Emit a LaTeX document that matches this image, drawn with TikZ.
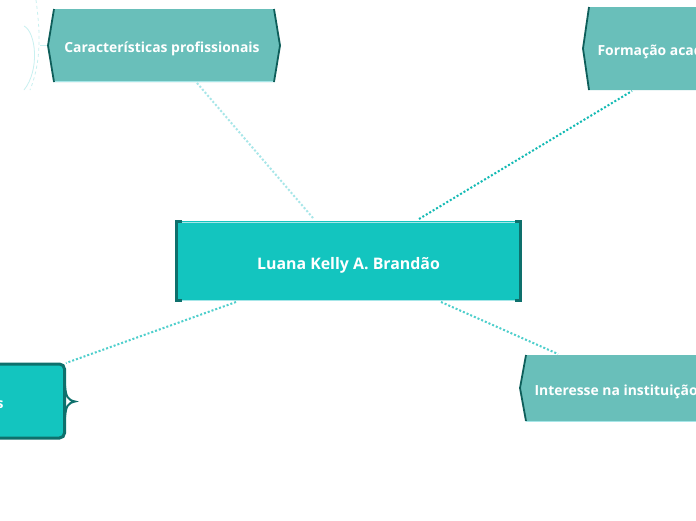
\documentclass[tikz,border=0pt]{standalone}
\usepackage{fontspec}
\setmainfont{Open Sans}
\definecolor{centerfill}{HTML}{13C5BF}
\definecolor{subfill}{HTML}{69BFBA}
\definecolor{darkedge}{HTML}{0E5E5A}
\definecolor{darkteal}{HTML}{0E706C}
\definecolor{lightcyan}{HTML}{A6E6E8}
\definecolor{midcyan}{HTML}{4ECFCC}
\definecolor{deepcyan}{HTML}{13BAB4}
\definecolor{paleline}{HTML}{C8F0F0}
\tikzset{
  lbl/.style={text=white},
  conn/.style={line width=2pt,dash pattern=on 2pt off 2pt},
  subshape/.style={fill=subfill},
  sideedge/.style={draw=darkedge,line width=1.8pt},
}
\newcommand{\subfont}{\bfseries\fontsize{13.9}{16}\selectfont}
\begin{document}
\begin{tikzpicture}[x=1pt,y=-1pt]
\useasboundingbox (0,0) rectangle (696,520);
\clip (0,0) rectangle (696,520);
\fill[white] (0,0) rectangle (696,520);

% faint decorations left of top-left node
\draw[paleline,line width=0.8pt,dashed] (36,0) .. controls (40,30) and (42,60) .. (30,90);
\draw[paleline,line width=0.8pt] (24,26) .. controls (36,32) and (40,70) .. (24,90);
\draw[paleline,line width=1pt] (40,45) -- (48,45);

% connector endpoints
\coordinate (c1) at (313,218);
\coordinate (c2) at (419,219);
\coordinate (c3) at (236,302);
\coordinate (c4) at (441,302);
\coordinate (t1) at (197,83);
\coordinate (t2) at (632,91);
\coordinate (t3) at (66,363);
\coordinate (t4) at (558,354);

\draw[conn,lightcyan] (c1) -- (t1);
\draw[conn,deepcyan] (c2) -- (t2);
\draw[conn,midcyan] (c3) -- (t3);
\draw[conn,midcyan] (c4) -- (t4);

% central node
\fill[centerfill] (175,221) rectangle (522,301);
\draw[lightcyan,line width=1pt] (178,222) -- (519,222);
\draw[lightcyan,line width=1pt] (178,300) -- (519,300);
\draw[darkteal,line width=3pt] (182,221.5) -- (176.5,221.5) -- (176.5,300.5) -- (182,300.5);
\draw[darkteal,line width=3pt] (515,221.5) -- (520.5,221.5) -- (520.5,300.5) -- (515,300.5);
\node[lbl,font=\bfseries\fontsize{15.9}{18}\selectfont] (center) at (348.5,265) {Luana Kelly A. Brandão};

% top-left node
\fill[subshape] (54,9) -- (274,9) -- (280,45.5) -- (274,82) -- (54,82) -- (48,45.5) -- cycle;
\draw[lightcyan,line width=1pt] (54,81.5) -- (274,81.5);
\draw[sideedge] (54,9) -- (48,45.5) -- (54,82);
\draw[sideedge] (274,9) -- (280,45.5) -- (274,82);
\node[lbl,font=\subfont] (prof) at (162,48.5) {Características profissionais};

% top-right node
\fill[subshape] (589,7) -- (700,7) -- (700,90) -- (589,90) -- (583,48.5) -- cycle;
\draw[sideedge] (589,7) -- (583,48.5) -- (589,90);
\node[lbl,font=\subfont,anchor=west] (acad) at (594,51.5) {Formação acadêmica};

% bottom-right node
\fill[subshape] (526,355) -- (700,355) -- (700,421) -- (526,421) -- (520,388) -- cycle;
\draw[lightcyan,line width=1pt] (526,421) -- (700,421);
\draw[sideedge] (526,355) -- (520,388) -- (526,421);
\node[lbl,font=\subfont,anchor=west] (inst) at (531,391.5) {Interesse na instituição};

% bottom-left node
\draw[darkteal,fill=centerfill,line width=3pt,rounded corners=5pt] (-40,364) -- (64.5,364) -- (64.5,438) -- (-40,438) -- cycle;
\draw[darkteal,line width=2pt] (65,386) .. controls (66,397) and (68,400) .. (75,401.5) .. controls (68,403) and (66,406) .. (65,417);
\node[lbl,font=\subfont,anchor=east] (pess) at (7,405) {Características pessoais};
\end{tikzpicture}
\end{document}
